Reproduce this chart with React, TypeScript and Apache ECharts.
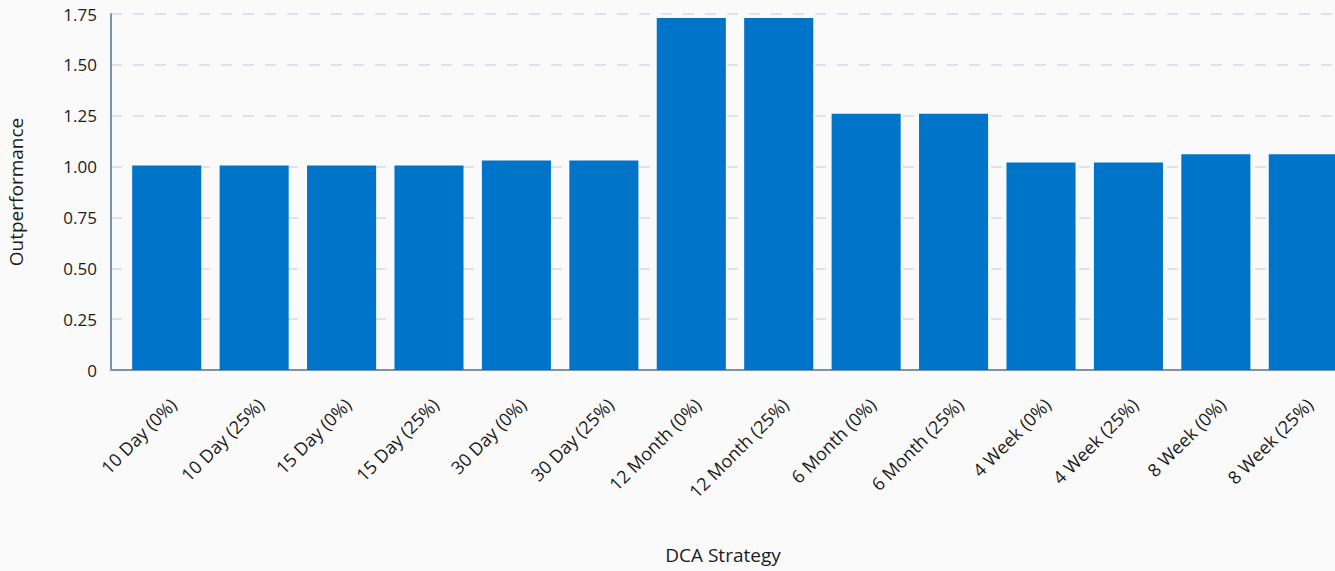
import React, { useEffect, useRef } from "react";
import * as echarts from "echarts";

const categories = [
  "10 Day (0%)", "10 Day (25%)", "15 Day (0%)", "15 Day (25%)",
  "30 Day (0%)", "30 Day (25%)", "12 Month (0%)", "12 Month (25%)",
  "6 Month (0%)", "6 Month (25%)", "4 Week (0%)", "4 Week (25%)",
  "8 Week (0%)", "8 Week (25%)",
];
const outperformance = [
  1.005, 1.005, 1.005, 1.005, 1.03, 1.03, 1.73, 1.73,
  1.26, 1.26, 1.02, 1.02, 1.06, 1.06,
];
const yTicks = [0, 0.25, 0.5, 0.75, 1.0, 1.25, 1.5, 1.75];

const FONT = "'Open Sans', 'Noto Sans', sans-serif";
const TEXT = "#1c1c1c";
const AXIS = "#7b93ae";

export default function App() {
  const ref = useRef<HTMLDivElement>(null);
  useEffect(() => {
    if (!ref.current) return;
    const chart = echarts.init(ref.current, undefined, { renderer: "svg" });
    chart.setOption({
      animation: false,
      backgroundColor: "#fafafa",
      textStyle: { fontFamily: FONT },
      grid: [
        { left: 111, right: 0, top: 14, bottom: 201, containLabel: false, outerBoundsMode: "none" },
        { left: 123, right: -12, top: 14, bottom: 201, containLabel: false, outerBoundsMode: "none" },
      ],
      xAxis: [
        {
          gridIndex: 0,
          type: "value",
          min: 0,
          max: 1,
          name: "DCA Strategy",
          nameLocation: "middle",
          nameGap: 175,
          nameTextStyle: { fontSize: 19, color: TEXT, fontFamily: FONT },
          axisLine: { show: true, lineStyle: { color: AXIS, width: 2 } },
          axisTick: { show: false },
          axisLabel: { show: false },
          splitLine: { show: false },
        },
        {
          gridIndex: 1,
          type: "category",
          data: categories,
          axisLine: { show: false },
          axisTick: { show: false },
          axisLabel: {
            rotate: 45,
            fontSize: 18,
            color: TEXT,
            margin: 25,
            verticalAlign: "top",
            lineHeight: 18,
            interval: 0,
            fontFamily: FONT,
          },
        },
      ],
      yAxis: [
        {
          gridIndex: 0,
          type: "value",
          min: 0,
          max: 1.75,
          interval: 0.25,
          name: "Outperformance",
          nameLocation: "middle",
          nameGap: 86,
          nameRotate: 90,
          nameTextStyle: { fontSize: 19, color: TEXT, fontFamily: FONT },
          axisLine: { show: true, lineStyle: { color: AXIS, width: 2 } },
          axisTick: { show: false },
          axisLabel: {
            fontSize: 17,
            color: TEXT,
            margin: 14,
            fontFamily: FONT,
            formatter: (v: number) => {
              const t = yTicks.find((x) => Math.abs(x - v) < 1e-9);
              const val = t === undefined ? v : t;
              return val === 0 ? "0" : val.toFixed(2);
            },
          },
          splitLine: {
            lineStyle: { color: "#dde3ea", width: 2, type: [11, 11] },
          },
        },
        {
          gridIndex: 1,
          type: "value",
          min: 0,
          max: 1.75,
          interval: 0.25,
          axisLine: { show: false },
          axisTick: { show: false },
          axisLabel: { show: false },
          splitLine: { show: false },
        },
      ],
      series: [
        {
          type: "bar",
          xAxisIndex: 1,
          yAxisIndex: 1,
          data: outperformance,
          barCategoryGap: "21%",
          itemStyle: { color: "#0074c8" },
        },
      ],
    });
    return () => chart.dispose();
  }, []);
  return (
    <div
      ref={ref}
      style={{ position: "fixed", left: 0, top: 0, width: 1335, height: 571 }}
    />
  );
}
